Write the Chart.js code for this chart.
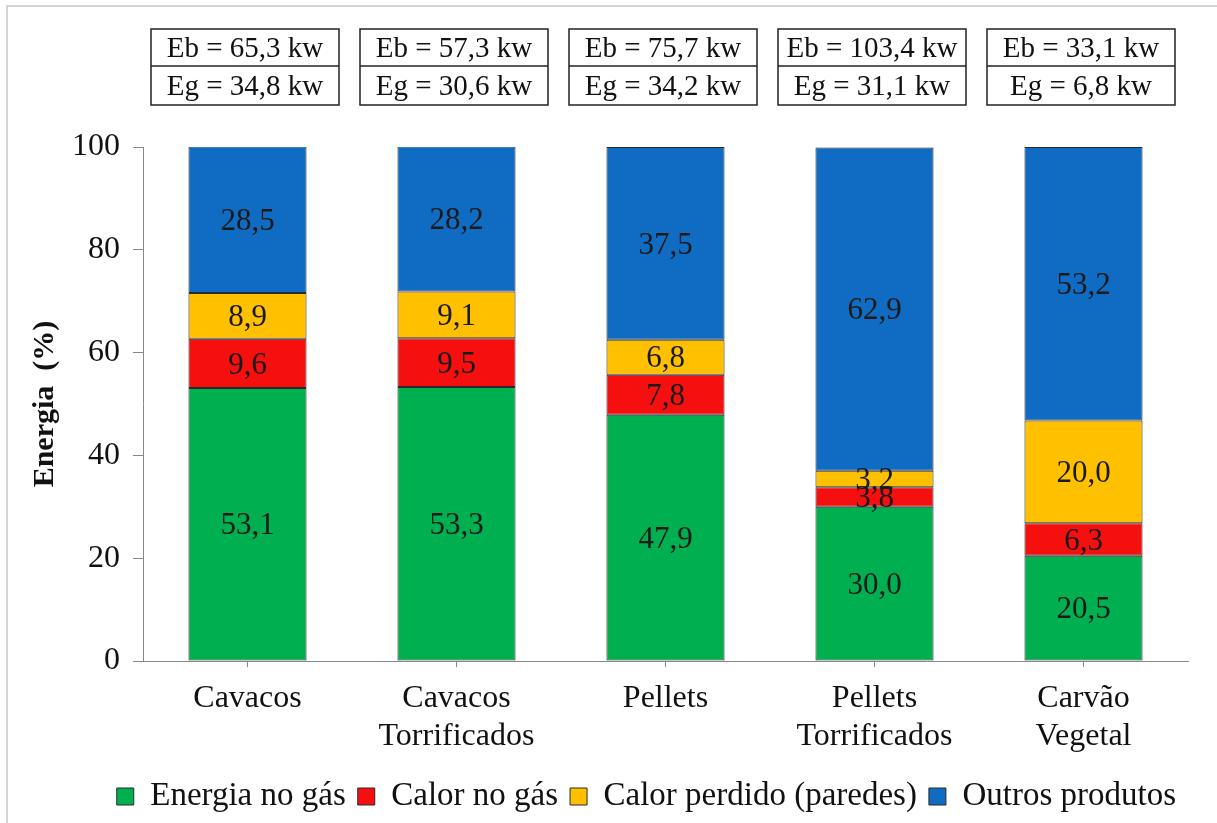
<!DOCTYPE html>
<html>
<head>
<meta charset="utf-8">
<script src="https://cdn.jsdelivr.net/npm/chart.js@4"></script>
<style>
  html, body { margin: 0; padding: 0; background: #fff; }
  #wrap { position: relative; width: 1217px; height: 823px; }
</style>
</head>
<body>
<div id="wrap"><canvas id="chart" width="1217" height="823"></canvas></div>
<script>
const SERIF = "'Liberation Serif', 'Times New Roman', serif";

const CATEGORIES = [["Cavacos"], ["Cavacos", "Torrificados"], ["Pellets"], ["Pellets", "Torrificados"], ["Carvão", "Vegetal"]];
const ENERGIA_GAS = [53.1, 53.3, 47.9, 30.0, 20.5];
const CALOR_GAS = [9.6, 9.5, 7.8, 3.8, 6.3];
const CALOR_PERDIDO = [8.9, 9.1, 6.8, 3.2, 20.0];
const OUTROS = [28.5, 28.2, 37.5, 62.9, 53.2];
const EB = [65.3, 57.3, 75.7, 103.4, 33.1];
const EG = [34.8, 30.6, 34.2, 31.1, 6.8];

const fmt = v => v.toFixed(1).replace(".", ",");

// value labels in the middle of each segment
const segmentLabels = {
    id: "segmentLabels",
    afterDatasetsDraw(chart) {
        const ctx = chart.ctx;
        ctx.save();
        ctx.font = "31px " + SERIF;
        ctx.fillStyle = "#1a1a1a";
        ctx.textAlign = "center";
        ctx.textBaseline = "middle";
        chart.data.datasets.forEach((ds, i) => {
            chart.getDatasetMeta(i).data.forEach((bar, j) => {
                ctx.fillText(fmt(ds.data[j]), bar.x, (bar.y + bar.base) / 2 + 2);
            });
        });
        ctx.restore();
    },
};

// Eb / Eg boxes above each bar, plus the thin frame of the picture
const energyBoxes = {
    id: "energyBoxes",
    beforeDraw(chart) {
        const ctx = chart.ctx;
        ctx.save();
        ctx.strokeStyle = "#d4d4d4";
        ctx.lineWidth = 2;
        ctx.beginPath();
        ctx.moveTo(7, chart.height);
        ctx.lineTo(7, 6);
        ctx.lineTo(chart.width, 6);
        ctx.stroke();
        ctx.restore();
    },
    afterDraw(chart) {
        const ctx = chart.ctx;
        const x = chart.scales.x;
        const w = 188, top = 29, mid = 66, bottom = 105;
        ctx.save();
        ctx.strokeStyle = "#222";
        ctx.lineWidth = 1.5;
        ctx.font = "29px " + SERIF;
        ctx.fillStyle = "#111";
        ctx.textAlign = "center";
        ctx.textBaseline = "middle";
        EB.forEach((eb, i) => {
            const cx = Math.round(x.getPixelForValue(i)) - 3;
            const left = cx - w / 2;
            ctx.strokeRect(left, top, w, bottom - top);
            ctx.beginPath();
            ctx.moveTo(left, mid);
            ctx.lineTo(left + w, mid);
            ctx.stroke();
            ctx.fillText("Eb = " + fmt(eb) + " kw", cx, (top + mid) / 2 + 2);
            ctx.fillText("Eg = " + fmt(EG[i]) + " kw", cx, (mid + bottom) / 2 + 2);
        });
        ctx.restore();
    },
};

const seriesStyle = (label, data, color) => ({
    label, data,
    backgroundColor: color,
    borderColor: "#2a2a2a",
    borderWidth: 1,
    borderSkipped: false,
    categoryPercentage: 1,
    barPercentage: 0.565,
});

new Chart(document.getElementById("chart"), {
    type: "bar",
    data: {
        labels: CATEGORIES,
        datasets: [
            seriesStyle("Energia no gás", ENERGIA_GAS, "#00b050"),
            seriesStyle("Calor no gás", CALOR_GAS, "#f50f0f"),
            seriesStyle("Calor perdido (paredes)", CALOR_PERDIDO, "#ffc000"),
            seriesStyle("Outros produtos", OUTROS, "#0f6cc2"),
        ],
    },
    options: {
        responsive: false,
        animation: false,
        layout: { padding: { top: 147, right: 29, left: 0, bottom: 0 } },
        plugins: {
            tooltip: { enabled: false },
            legend: {
                position: "bottom",
                align: "end",
                labels: {
                    font: { family: SERIF, size: 33 },
                    color: "#111",
                    boxWidth: 17, boxHeight: 17,
                    padding: 12,
                },
            },
        },
        scales: {
            x: {
                stacked: true,
                border: { color: "#888", width: 1 },
                grid: { display: true, drawOnChartArea: false, offset: false, tickLength: 6, color: "#888" },
                ticks: { font: { family: SERIF, size: 32, lineHeight: 1.2 }, color: "#111", padding: 12, maxRotation: 0 },
                afterFit(s) { s.height = 107; },
            },
            y: {
                stacked: true,
                min: 0, max: 100,
                border: { color: "#888", width: 1 },
                grid: { display: true, drawOnChartArea: false, tickLength: 10, color: "#888" },
                ticks: { stepSize: 20, font: { family: SERIF, size: 32 }, color: "#111", padding: 13 },
                title: {
                    display: true, text: "Energia  (%)",
                    font: { family: SERIF, size: 30, weight: "bold" },
                    color: "#111",
                    padding: { top: 27, bottom: 0 },
                },
                afterFit(s) { s.width = 143; },
            },
        },
    },
    plugins: [segmentLabels, energyBoxes],
});
</script>
</body>
</html>
